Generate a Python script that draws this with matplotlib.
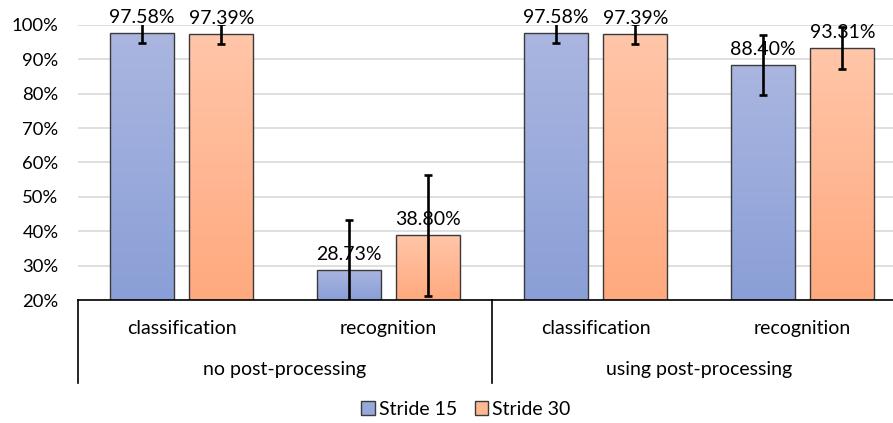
import numpy as np
import matplotlib
matplotlib.use("Agg")
import matplotlib.pyplot as plt
from matplotlib.patches import Patch
from matplotlib.colors import LinearSegmentedColormap

plt.rcParams['font.family'] = ['Lato', 'DejaVu Sans']

# data
categories = ['classification', 'recognition', 'classification', 'recognition']
groups = ['no post-processing', 'using post-processing']
series = ['Stride 15', 'Stride 30']
stride15 = [97.58, 28.73, 97.58, 88.40]
stride30 = [97.39, 38.80, 97.39, 93.31]
err15 = [2.9, 14.6, 2.9, 8.7]
err30 = [3.0, 17.5, 3.0, 6.2]

# gradient colours (bottom, top)
blue_grad = LinearSegmentedColormap.from_list('b', ['#8A9FD7', '#AAB6E0'])
orange_grad = LinearSegmentedColormap.from_list('o', ['#FFA97E', '#FFC6A9'])

W, H = 893, 423
fig = plt.figure(figsize=(W / 100, H / 100), dpi=100)
# plot area runs past the right edge of the picture (original was cropped)
ax = fig.add_axes([78 / W, (H - 300) / H, 828 / W, 275 / H])

x = np.arange(len(categories))
bw = 0.309
off = 0.193
fs = 14

grad = np.linspace(0, 1, 256).reshape(-1, 1)
for vals, errs, sign, cmap in [(stride15, err15, -1, blue_grad),
                               (stride30, err30, 1, orange_grad)]:
    xs = x + sign * off
    bars = ax.bar(xs, np.array(vals) - 20, bw, bottom=20, facecolor='none',
                  edgecolor='#3A3A3A', linewidth=1.0, zorder=3)
    for b in bars:
        x0, y0 = b.get_x(), b.get_y()
        im = ax.imshow(grad, cmap=cmap, origin='lower', aspect='auto',
                       extent=[x0, x0 + b.get_width(), y0, y0 + b.get_height()],
                       zorder=2)
        im.set_clip_path(b)
    ax.errorbar(xs, vals, yerr=errs, fmt='none', ecolor='black',
                elinewidth=1.9, capsize=3.2, capthick=1.9, zorder=4)
    for xi, v in zip(xs, vals):
        ax.annotate(f'{v:.2f}%', (xi, v), xytext=(0, 5), textcoords='offset points',
                    ha='center', va='bottom', fontsize=fs, color='black', zorder=5)

ax.set_xlim(-0.5, 3.5)
ax.set_ylim(20, 100)

# y axis
ax.set_yticks(np.arange(20, 101, 10))
ax.set_yticklabels([f'{v}%' for v in range(20, 101, 10)], fontsize=13.3)
ax.tick_params(axis='y', length=0, pad=14)
ax.tick_params(axis='x', length=0, labelbottom=False)
ax.set_axisbelow(True)
ax.grid(axis='y', color='#D9D9D9', linewidth=1.2, zorder=0)
for s in ['top', 'right', 'left']:
    ax.spines[s].set_visible(False)
ax.spines['bottom'].set_color('black')
ax.spines['bottom'].set_linewidth(1.2)
ax.spines['bottom'].set_zorder(6)

# two-level category axis
tr = ax.get_xaxis_transform()
for xi, c in zip(x, categories):
    ax.text(xi, -0.102, c, transform=tr, ha='center', va='center', fontsize=fs,
            clip_on=False)
for gi, g in enumerate(groups):
    ax.text(gi * 2 + 0.5, -0.251, g, transform=tr, ha='center', va='center',
            fontsize=fs, clip_on=False)
for xd in [-0.5, 1.5, 3.5]:
    ax.plot([xd, xd], [0, -0.302], transform=tr, color='black', linewidth=1.2,
            clip_on=False)

handles = [Patch(facecolor='#97A9DB', edgecolor='#3A3A3A', linewidth=1.0),
           Patch(facecolor='#FFB892', edgecolor='#3A3A3A', linewidth=1.0)]
fig.legend(handles, series, loc='center', bbox_to_anchor=(466 / W, 1 - 409 / H),
           ncol=2, frameon=False, fontsize=fs, handlelength=0.7, handleheight=0.7,
           handletextpad=0.2, columnspacing=0.9)

fig.savefig('out.png', dpi=100)
